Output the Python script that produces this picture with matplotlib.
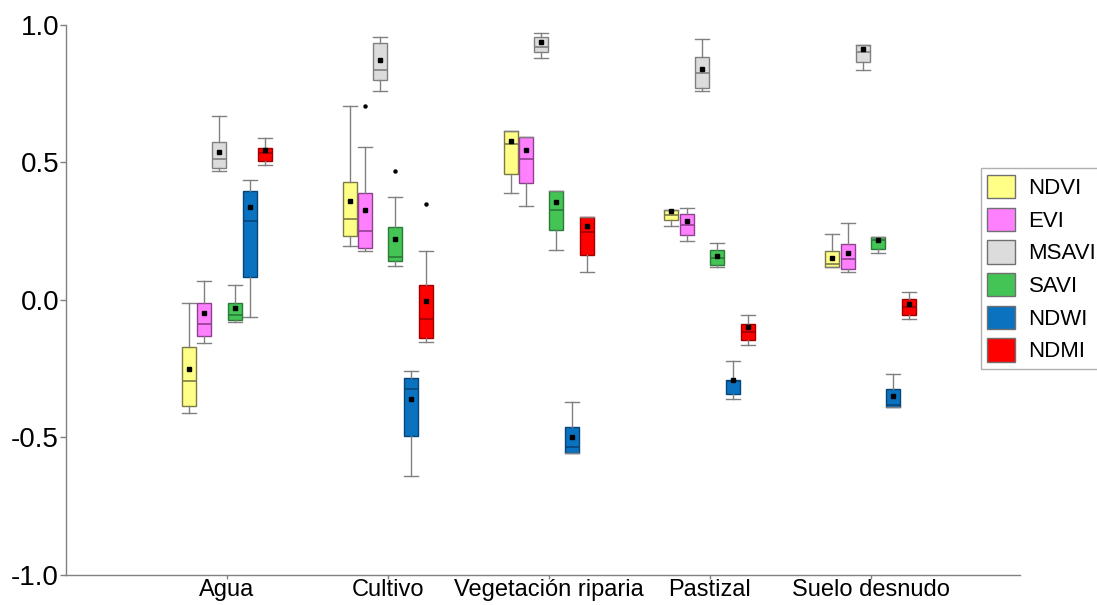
import matplotlib
matplotlib.use("Agg")
import matplotlib.pyplot as plt
from matplotlib.patches import Patch
import numpy as np

plt.rcParams['font.family'] = ['Liberation Sans', 'DejaVu Sans']

groups = ['Agua', 'Cultivo', 'Vegetación riparia', 'Pastizal', 'Suelo desnudo']
indices = ['NDVI', 'EVI', 'MSAVI', 'SAVI', 'NDWI', 'NDMI']

# each row: whislo, q1, median, q3, whishi, mean  (one row per group)
ndvi = [[-0.41, -0.385, -0.293, -0.171, -0.01, -0.25],
        [0.198, 0.233, 0.294, 0.429, 0.707, 0.36],
        [0.39, 0.459, 0.566, 0.615, 0.615, 0.579],
        [0.268, 0.29, 0.309, 0.327, 0.327, 0.324],
        [0.119, 0.119, 0.13, 0.178, 0.239, 0.154]]
evi = [[-0.156, -0.13, -0.087, -0.01, 0.07, -0.048],
       [0.179, 0.19, 0.25, 0.388, 0.556, 0.327],
       [0.343, 0.427, 0.514, 0.592, 0.592, 0.547],
       [0.215, 0.236, 0.274, 0.312, 0.333, 0.289],
       [0.10, 0.112, 0.148, 0.204, 0.279, 0.17]]
msavi = [[0.469, 0.48, 0.513, 0.575, 0.67, 0.539],
         [0.759, 0.799, 0.836, 0.933, 0.957, 0.873],
         [0.881, 0.90, 0.919, 0.957, 0.97, 0.939],
         [0.76, 0.77, 0.827, 0.885, 0.948, 0.84],
         [0.836, 0.864, 0.903, 0.927, 0.927, 0.912]]
savi = [[-0.08, -0.073, -0.055, -0.01, 0.055, -0.028],
        [0.125, 0.143, 0.155, 0.265, 0.376, 0.222],
        [0.183, 0.253, 0.328, 0.395, 0.395, 0.355],
        [0.12, 0.127, 0.154, 0.18, 0.209, 0.16],
        [0.17, 0.185, 0.218, 0.228, 0.228, 0.218]]
ndwi = [[-0.062, 0.083, 0.287, 0.397, 0.436, 0.339],
        [-0.639, -0.496, -0.325, -0.285, -0.259, -0.36],
        [-0.558, -0.558, -0.533, -0.463, -0.37, -0.497],
        [-0.361, -0.343, -0.295, -0.29, -0.222, -0.29],
        [-0.39, -0.39, -0.382, -0.325, -0.269, -0.349]]
ndmi = [[0.49, 0.505, 0.535, 0.554, 0.59, 0.545],
        [-0.152, -0.137, -0.069, 0.053, 0.179, -0.004],
        [0.10, 0.165, 0.246, 0.30, 0.30, 0.269],
        [-0.162, -0.145, -0.115, -0.087, -0.053, -0.10],
        [-0.07, -0.055, -0.024, 0.002, 0.029, -0.015]]

# outliers: (index, group) -> values
outliers = {('EVI', 1): [0.707], ('SAVI', 1): [0.469], ('NDMI', 1): [0.348]}

faces = ['#FFFF88', '#FF80FF', '#DCDCDC', '#44C455', '#0A72BE', '#FF0000']
edges = ['#7A7A45', '#904090', '#808080', '#2A7A38', '#08467A', '#A00000']

series = [ndvi, evi, msavi, savi, ndwi, ndmi]

fig = plt.figure(figsize=(10.97, 6.05), dpi=100)
ax = fig.add_axes([0.0602, 0.0496, 0.8698, 0.9091])

step = 0.095
width = 0.087
x = np.arange(1, len(groups) + 1)

for k, (name, data) in enumerate(zip(indices, series)):
    stats = []
    for g, row in enumerate(data):
        stats.append(dict(whislo=row[0], q1=row[1], med=row[2], q3=row[3],
                          whishi=row[4], mean=row[5],
                          fliers=outliers.get((name, g), [])))
    pos = x + (k - 2.5) * step
    ax.bxp(stats, positions=pos, widths=width, capwidths=width,
           patch_artist=True, showmeans=True, manage_ticks=False,
           boxprops=dict(facecolor=faces[k], edgecolor=edges[k], linewidth=1),
           medianprops=dict(color=edges[k], linewidth=1.2),
           whiskerprops=dict(color='#808080', linewidth=1),
           capprops=dict(color='#808080', linewidth=1),
           meanprops=dict(marker='s', markersize=2.4, markerfacecolor='black',
                          markeredgecolor='black'),
           flierprops=dict(marker='o', markersize=2.2, markerfacecolor='black',
                           markeredgecolor='black'))

ax.set_xlim(0, 5.93)
ax.set_ylim(-1.0, 1.0)
ax.set_yticks([-1.0, -0.5, 0.0, 0.5, 1.0])
ax.set_yticklabels(['-1.0', '-0.5', '0.0', '0.5', '1.0'], fontsize=20)
ax.set_xticks(x)
ax.set_xticklabels(groups, fontsize=17)

for s in ['top', 'right']:
    ax.spines[s].set_visible(False)
for s in ['left', 'bottom']:
    ax.spines[s].set_color('#808080')
    ax.spines[s].set_linewidth(1)
ax.tick_params(colors='#808080', length=4, width=1, labelcolor='black', pad=1)
ax.tick_params(axis='x', length=3, pad=0)

handles = [Patch(facecolor=f, edgecolor='#707070', label=n) for f, n in zip(faces, indices)]
fig.legend(handles=handles, loc='upper left', bbox_to_anchor=(0.894, 0.722),
           fontsize=16, handlelength=1.25, handleheight=1.25, labelspacing=0.38,
           handletextpad=0.6, borderpad=0.3, borderaxespad=0, fancybox=False,
           edgecolor='#B0B0B0', framealpha=1)

fig.savefig('out.png', dpi=100)
